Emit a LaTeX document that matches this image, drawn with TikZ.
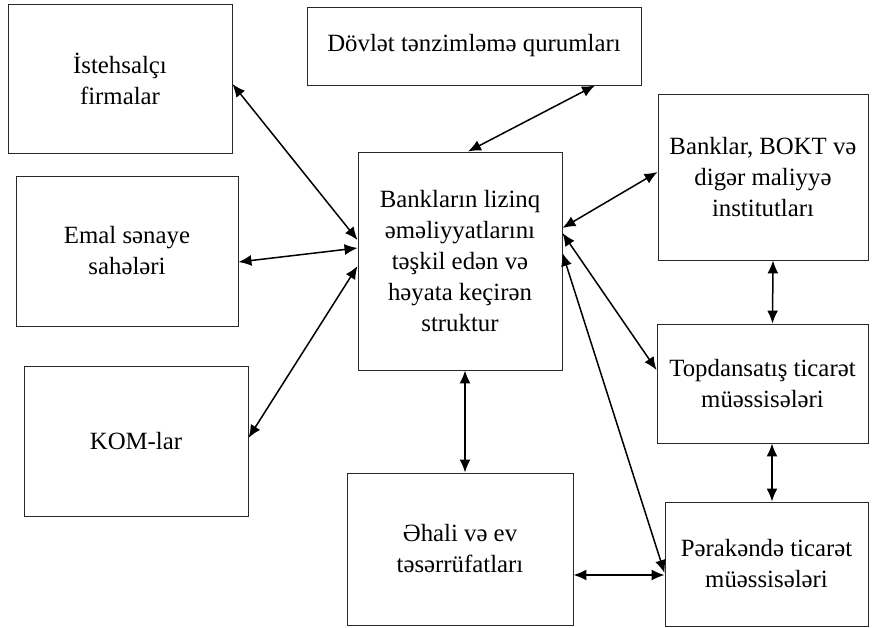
\documentclass[tikz,border=0pt]{standalone}
\usepackage{fontspec}
\setmainfont{Liberation Serif}
\usepackage{tikz}
\usetikzlibrary{arrows.meta,positioning}
\definecolor{boxgray}{RGB}{40,40,40}
\tikzstyle{lbox}=[rectangle,draw=boxgray,line width=0.9pt,align=center,
                  font=\fontsize{24.8}{31}\selectfont,inner sep=2pt]
\tikzstyle{arrow}=[{Latex[length=13pt,width=11pt]}-{Latex[length=13pt,width=11pt]},line width=1.5pt,draw=black]

\begin{document}
\begin{tikzpicture}[x=1pt,y=-1pt]
      \useasboundingbox (0,0) rectangle (873,628);
      \node[lbox,minimum width=224pt,minimum height=149pt] (ist) at (120,78.5) {İstehsalçı\\firmalar};
      \node[lbox,minimum width=222pt,minimum height=150pt] (emal) at (127,251) {Emal sənaye\\sahələri};
      \node[lbox,minimum width=224pt,minimum height=150pt] (kom) at (136,441) {KOM-lar};
      \node[lbox,minimum width=334pt,minimum height=78pt] (dov) at (474,46) {Dövlət tənzimləmə qurumları};
      \node[lbox,minimum width=204pt,minimum height=218pt] (cen) at (460,261) {Bankların lizinq\\əməliyyatlarını\\təşkil edən və\\həyata keçirən\\struktur};
      \node[lbox,minimum width=210pt,minimum height=166pt] (bank) at (763,177) {Banklar, BOKT və\\digər maliyyə\\institutları};
      \node[lbox,minimum width=211pt,minimum height=119pt] (top) at (762.5,383.5) {Topdansatış ticarət\\müəssisələri};
      \node[lbox,minimum width=203pt,minimum height=124pt] (per) at (766.5,564) {Pərakəndə ticarət\\müəssisələri};
      \node[lbox,minimum width=226pt,minimum height=152pt] (ehali) at (460,549) {Əhali və ev\\təsərrüfatları};

      \draw[arrow] ([yshift=-5.5pt]ist.east)--([yshift=21pt]cen.west);
      \draw[arrow] ([yshift=-11pt]emal.east)--([yshift=13pt]cen.west);
      \draw[arrow] ([yshift=3pt]kom.east)--([yshift=-5pt]cen.west);
      \draw[arrow] ([xshift=121pt]dov.south)--([xshift=8pt]cen.north);
      \draw[arrow] ([yshift=5pt]bank.west)--([yshift=33pt]cen.east);
      \draw[arrow] ([yshift=28pt]cen.east)--([yshift=13.5pt]top.west);
      \draw[arrow] ([yshift=8pt]cen.east)--([yshift=-9pt]per.west);
      \draw[arrow] ([xshift=5pt]cen.south)--([xshift=5pt]ehali.north);
      \draw[arrow] ([xshift=10pt]bank.south)--([xshift=10pt]top.north);
      \draw[arrow] ([xshift=9.5pt]top.south)--([xshift=5.5pt]per.north);
      \draw[arrow] ([yshift=-26pt]ehali.east)--([yshift=-11pt]per.west);
    \end{tikzpicture}
\end{document}
